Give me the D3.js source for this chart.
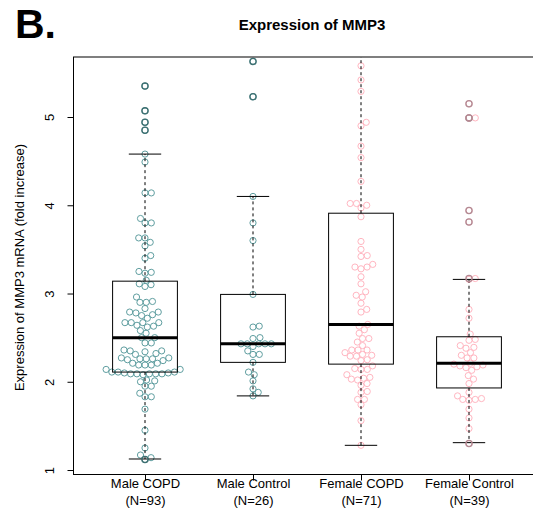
<!DOCTYPE html>
<html>
<head>
<meta charset="utf-8">
<script src="https://cdn.jsdelivr.net/npm/d3@7"></script>
<style>
  body { margin: 0; background: #fff; }
  svg { display: block; }
  text { font-family: "Liberation Sans", Arial, Helvetica, sans-serif; fill: #000; }
</style>
</head>
<body>
<svg id="chart" width="533" height="515"></svg>
<script>
// MMP3 fold increase by sex and COPD status
const categories = ["Male COPD", "Male Control", "Female COPD", "Female Control"];

const maleCOPD = [5.35, 5.07, 4.94, 4.85, 4.58, 4.49, 4.14, 4.14, 3.85, 3.80, 3.80, 3.63, 3.63, 3.58, 3.54, 3.43, 3.40,
  3.25, 3.23, 3.24, 3.11, 3.08, 3.10, 3.15, 2.96, 2.90, 2.90, 2.91, 2.83, 2.79, 2.78, 2.75, 2.76, 2.79, 2.72,
  2.67, 2.62, 2.67, 2.64, 2.63, 2.67, 2.67, 2.58, 2.55, 2.50, 2.50,
  2.44, 2.44, 2.36, 2.35, 2.35, 2.34, 2.32, 2.31, 2.27, 2.26, 2.26, 2.25, 2.26, 2.24, 2.27, 2.21, 2.21, 2.19, 2.19, 2.19, 2.14, 2.14,
  2.11, 2.11, 2.10, 2.09, 2.09, 2.09, 2.08, 2.09, 2.09, 2.10, 2.11, 2.01, 2.00, 2.02, 1.95, 1.95, 1.87, 1.83, 1.83,
  1.69, 1.45, 1.25, 1.17, 1.14, 1.12];

const maleControl = [5.63, 5.23, 4.10, 3.80, 3.60, 2.99, 2.62, 2.63, 2.49, 2.50, 2.43, 2.43, 2.43, 2.43, 2.43, 2.40,
  2.35, 2.31, 2.31, 2.22, 2.11, 2.08, 2.01, 1.92, 1.88, 1.84];

const femaleCOPD = [6.90, 6.38, 6.24, 6.08, 5.92, 5.78, 5.58, 5.42, 5.29, 4.94, 4.90, 4.67, 4.54, 4.27,
  4.02, 4.02, 4.00, 3.97, 3.87, 3.59, 3.50, 3.43, 3.42, 3.33, 3.30, 3.30, 3.28, 3.19, 3.11, 3.02, 2.98, 2.96,
  2.89, 2.82, 2.79, 2.65, 2.63, 2.59, 2.55, 2.49, 2.49, 2.45, 2.41, 2.36, 2.36, 2.36, 2.33, 2.31, 2.30, 2.29, 2.29,
  2.25, 2.24, 2.18, 2.15, 2.14, 2.14, 2.08, 2.05, 2.04, 2.03, 2.02, 1.98, 1.96, 1.89, 1.88, 1.80, 1.80, 1.74, 1.56, 1.28];

const femaleControl = [5.15, 4.99, 4.99, 3.94, 3.81, 3.17, 3.16, 2.82, 2.72, 2.54, 2.48, 2.47, 2.41, 2.39, 2.38, 2.33,
  2.30, 2.27, 2.27, 2.21, 2.20, 2.19, 2.18, 2.17, 2.16, 2.13, 2.07, 2.03, 1.98, 1.88, 1.84, 1.81, 1.80, 1.80, 1.79,
  1.69, 1.59, 1.47, 1.30];

// box-and-whisker statistics per group
const whiskerLow  = [1.125, 1.84, 1.28, 1.31];
const quartile1   = [2.11, 2.22, 2.20, 1.93];
const medians     = [2.50, 2.43, 2.65, 2.21];
const quartile3   = [3.14, 2.99, 3.91, 2.51];
const whiskerHigh = [4.58, 4.10, 6.38, 3.16];

const yTickValues = [1, 2, 3, 4, 5];

const groupValues = [maleCOPD, maleControl, femaleCOPD, femaleControl];
const pointColor   = ["#5f9ea0", "#5f9ea0", "#ffb6c1", "#ffb6c1"];
const outlierColor = ["#3e7072", "#3e7072", "#b38a93", "#b38a93"];

const svg = d3.select("#chart");
const frame = { left: 73, right: 541, top: 57, bottom: 474 };

const x = d3.scaleLinear().domain([1 / 3, 4 + 2 / 3]).range([frame.left, frame.right]);
const y = d3.scaleLinear().domain([0.955, 5.68]).range([frame.bottom, frame.top]);

const boxHalf = 0.3, capHalf = 0.15;
const pointR = 3.1, spacing = 6.3;

svg.append("defs").append("clipPath").attr("id", "plotClip")
  .append("rect")
  .attr("x", frame.left).attr("y", frame.top)
  .attr("width", frame.right - frame.left).attr("height", frame.bottom - frame.top);

// beeswarm offsets: each point goes as close to the centre line as it can without overlapping
function swarm(values) {
  const order = d3.range(values.length).sort((a, b) => values[a] - values[b]);
  const placed = [];
  const xs = new Array(values.length);
  for (const i of order) {
    const py = y(values[i]);
    const near = placed.filter(p => Math.abs(p.y - py) < spacing);
    const cands = [0];
    near.forEach(p => {
      const dx = Math.sqrt(spacing * spacing - (p.y - py) ** 2);
      cands.push(p.x + dx, p.x - dx);
    });
    cands.sort((a, b) => Math.abs(a) - Math.abs(b) || b - a);
    const ok = cands.find(c => near.every(p => (p.x - c) ** 2 + (p.y - py) ** 2 >= spacing * spacing - 1e-6));
    placed.push({ x: ok, y: py });
    xs[i] = ok;
  }
  return xs;
}

const plot = svg.append("g").attr("clip-path", "url(#plotClip)");

groupValues.forEach((vals, g) => {
  const offs = swarm(vals);
  const cx = x(g + 1);
  plot.append("g").selectAll("circle").data(vals).join("circle")
    .attr("cx", (d, i) => cx + offs[i])
    .attr("cy", d => y(d))
    .attr("r", pointR)
    .attr("fill", "none")
    .attr("stroke", pointColor[g])
    .attr("stroke-width", 1);
});

// boxes, whiskers and outliers on top of the points
groupValues.forEach((vals, g) => {
  const c = g + 1;
  const gb = plot.append("g").attr("stroke", "#000").attr("fill", "none");
  gb.append("line")
    .attr("x1", x(c)).attr("x2", x(c))
    .attr("y1", y(quartile3[g])).attr("y2", y(whiskerHigh[g]))
    .attr("stroke-dasharray", "3,3");
  gb.append("line")
    .attr("x1", x(c)).attr("x2", x(c))
    .attr("y1", y(quartile1[g])).attr("y2", y(whiskerLow[g]))
    .attr("stroke-dasharray", "3,3");
  [whiskerLow[g], whiskerHigh[g]].forEach(v => {
    gb.append("line")
      .attr("x1", x(c - capHalf)).attr("x2", x(c + capHalf))
      .attr("y1", y(v)).attr("y2", y(v));
  });
  gb.append("rect")
    .attr("x", x(c - boxHalf)).attr("width", x(c + boxHalf) - x(c - boxHalf))
    .attr("y", y(quartile3[g])).attr("height", y(quartile1[g]) - y(quartile3[g]));
  gb.append("line")
    .attr("x1", x(c - boxHalf)).attr("x2", x(c + boxHalf))
    .attr("y1", y(medians[g])).attr("y2", y(medians[g]))
    .attr("stroke-width", 3);
  const outliers = vals.filter(v => v > whiskerHigh[g] || v < whiskerLow[g]);
  plot.append("g").selectAll("circle").data(outliers).join("circle")
    .attr("cx", x(c)).attr("cy", d => y(d)).attr("r", pointR)
    .attr("fill", "none").attr("stroke", outlierColor[g]).attr("stroke-width", 1.3);
});

// plot frame
svg.append("rect")
  .attr("x", frame.left + 0.5).attr("y", frame.top)
  .attr("width", frame.right - frame.left).attr("height", frame.bottom - frame.top + 0.5)
  .attr("fill", "none").attr("stroke", "#000").attr("stroke-width", 1);

// y axis
const yAxis = svg.append("g").attr("transform", `translate(${frame.left + 0.5},0)`)
  .call(d3.axisLeft(y).tickValues(yTickValues).tickSize(6).tickFormat(d3.format("d")));
yAxis.select(".domain").remove();
yAxis.selectAll(".tick line").attr("stroke", "#000");
yAxis.selectAll(".tick text")
  .attr("transform", "rotate(-90)")
  .attr("x", 0).attr("y", -19.5).attr("dy", 0)
  .attr("text-anchor", "middle")
  .style("font-size", "13px")
  .style("font-family", "'Liberation Sans', Arial, Helvetica, sans-serif")
  .attr("fill", "#000");

// x axis with two-line group labels
const xAxis = svg.append("g").attr("transform", `translate(0,${frame.bottom + 0.5})`)
  .call(d3.axisBottom(x).tickValues([1, 2, 3, 4]).tickSize(6).tickFormat(""));
xAxis.select(".domain").remove();
xAxis.selectAll(".tick line").attr("stroke", "#000");
xAxis.selectAll(".tick").each(function (d) {
  const t = d3.select(this);
  t.select("text").remove();
  t.append("text").attr("y", 13.5).attr("text-anchor", "middle")
    .style("font-size", "13px").text(categories[d - 1]);
  t.append("text").attr("y", 30).attr("text-anchor", "middle")
    .style("font-size", "13px").text(`(N=${groupValues[d - 1].length})`);
});

// axis title
svg.append("text")
  .attr("transform", `translate(23.5,${(frame.top + frame.bottom) / 2 + 2}) rotate(-90)`)
  .attr("text-anchor", "middle")
  .style("font-size", "13px")
  .text("Expression of MMP3 mRNA (fold increase)");

// chart title and panel letter
svg.append("text")
  .attr("x", 312).attr("y", 30)
  .attr("text-anchor", "middle")
  .style("font-size", "15px").style("font-weight", "bold")
  .text("Expression of MMP3");

svg.append("text")
  .attr("x", 15).attr("y", 38)
  .style("font-size", "41px").style("font-weight", "bold")
  .text("B.");
</script>
</body>
</html>
